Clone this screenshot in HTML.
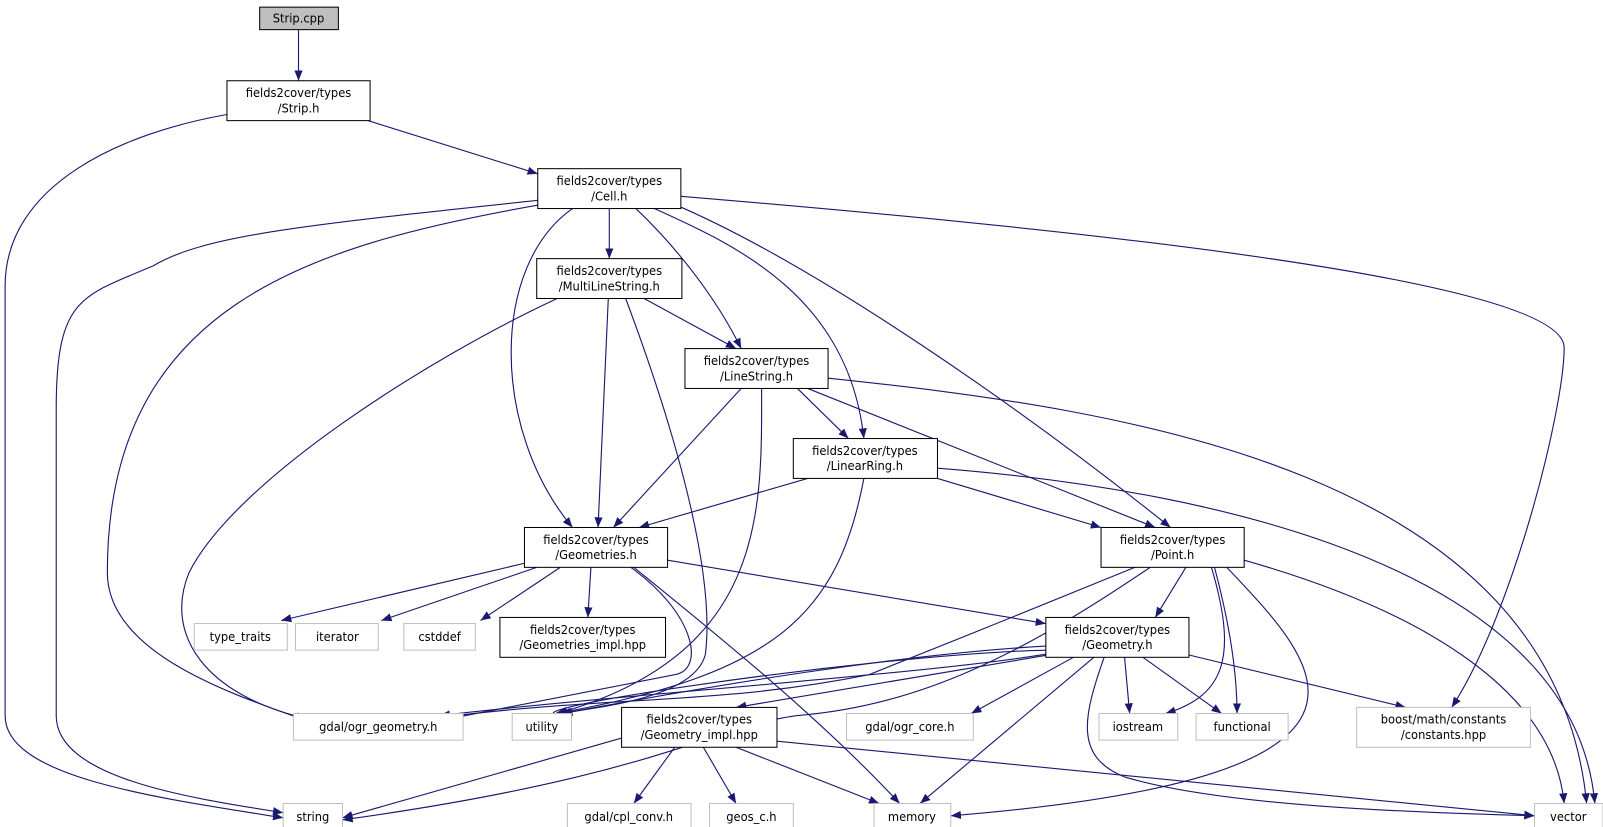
<!DOCTYPE html>
<html><head><meta charset="utf-8"><style>
html,body{margin:0;padding:0;background:#fff;}
svg{display:block;}
text{font-family:"DejaVu Sans Condensed","DejaVu Sans","Liberation Sans",sans-serif;font-size:12.5px;fill:#000;text-anchor:middle;}
.e{fill:none;stroke:#191970;stroke-width:1.1;marker-end:url(#a);}
.b{fill:#fff;stroke:#000;stroke-width:1;}
.g{fill:#fff;stroke:#bfbfbf;stroke-width:1;}
</style></head><body>
<svg width="1603" height="827" viewBox="0 0 1568 809" preserveAspectRatio="none">
<defs><marker id="a" viewBox="0 0 10 10" refX="10" refY="5" markerWidth="10" markerHeight="10" markerUnits="userSpaceOnUse" orient="auto"><path d="M0,1 L10,5 L0,9 z" fill="#191970"/></marker></defs>
<g>
<path class="e" d="M292,29 L292,79"/>
<path class="e" d="M360,118 L526,170"/>
<path class="e" d="M222,112 C120,130 5,180 5,280 L5,700 C5,760 150,780 277,800"/>
<path class="e" d="M596,204 L596,253"/>
<path class="e" d="M622,204 C660,240 700,290 725,341"/>
<path class="e" d="M640,204 C720,240 830,290 845,429"/>
<path class="e" d="M660,200 C800,260 1000,400 1145,516"/>
<path class="e" d="M560,204 C480,260 480,420 560,516"/>
<path class="e" d="M530,200 C300,240 105,300 105,560 C105,640 230,680 300,705"/>
<path class="e" d="M526,196 C300,220 200,230 150,260 C80,290 55,290 55,400 L55,700 C55,760 180,780 277,795"/>
<path class="e" d="M666,192 C1000,220 1530,270 1530,340 C1530,400 1480,600 1420,692"/>
<path class="e" d="M630,292 L720,341"/>
<path class="e" d="M595,292 L585,516"/>
<path class="e" d="M545,292 C420,350 230,470 185,560 C160,620 200,680 300,703"/>
<path class="e" d="M612,292 C660,420 700,560 690,640 C680,680 600,690 548,698"/>
<path class="e" d="M780,380 L830,429"/>
<path class="e" d="M725,380 L600,516"/>
<path class="e" d="M790,380 L1130,516"/>
<path class="e" d="M745,380 C745,500 750,640 545,698"/>
<path class="e" d="M810,370 C1100,400 1520,460 1552,786"/>
<path class="e" d="M790,468 L625,516"/>
<path class="e" d="M917,468 L1077,516"/>
<path class="e" d="M845,468 C820,600 760,660 543,698"/>
<path class="e" d="M917,458 C1200,480 1540,560 1560,786"/>
<path class="e" d="M513,551 L275,607"/>
<path class="e" d="M525,555 L373,607"/>
<path class="e" d="M548,555 L470,607"/>
<path class="e" d="M578,555 L575,604"/>
<path class="e" d="M653,548 L1023,610"/>
<path class="e" d="M617,555 C680,600 690,655 660,660 L430,705"/>
<path class="e" d="M620,555 C700,620 800,700 880,786"/>
<path class="e" d="M1160,555 L1130,604"/>
<path class="e" d="M1110,555 C1000,600 950,620 850,660 C700,690 600,680 430,702"/>
<path class="e" d="M1125,555 C1000,640 900,690 780,700 C700,710 640,760 335,802"/>
<path class="e" d="M1185,555 C1210,640 1200,680 1140,698"/>
<path class="e" d="M1188,555 C1200,600 1210,650 1210,698"/>
<path class="e" d="M1200,555 C1290,650 1400,760 930,798"/>
<path class="e" d="M1217,548 C1400,600 1520,680 1530,786"/>
<path class="e" d="M1023,640 C900,660 600,680 430,700"/>
<path class="e" d="M1023,632 C880,640 700,670 550,698"/>
<path class="e" d="M1023,636 C850,640 450,700 560,700"/>
<path class="e" d="M1030,640 L720,692"/>
<path class="e" d="M1050,643 L950,698"/>
<path class="e" d="M1070,643 L900,786"/>
<path class="e" d="M1080,643 C1060,700 1050,740 1100,760 C1200,790 1400,795 1501,798"/>
<path class="e" d="M1100,643 L1105,698"/>
<path class="e" d="M1118,643 L1195,698"/>
<path class="e" d="M1160,640 L1375,692"/>
<path class="e" d="M608,722 L335,800"/>
<path class="e" d="M660,731 L620,786"/>
<path class="e" d="M688,731 L720,786"/>
<path class="e" d="M720,731 L860,786"/>
<path class="e" d="M760,725 L1501,798"/>
</g>
<g>
<rect x="254" y="7" width="77" height="22" fill="#bfbfbf" stroke="#000"/><text x="292" y="22">Strip.cpp</text>
<rect class="b" x="222" y="79" width="140" height="39"/><text x="292" y="95">fields2cover/types</text><text x="292" y="110">/Strip.h</text>
<rect class="b" x="526" y="165" width="140" height="39"/><text x="596" y="181">fields2cover/types</text><text x="596" y="196">/Cell.h</text>
<rect class="b" x="525" y="253" width="142" height="39"/><text x="596" y="269">fields2cover/types</text><text x="596" y="284">/MultiLineString.h</text>
<rect class="b" x="670" y="341" width="140" height="39"/><text x="740" y="357">fields2cover/types</text><text x="740" y="372">/LineString.h</text>
<rect class="b" x="776" y="429" width="141" height="39"/><text x="846" y="445">fields2cover/types</text><text x="846" y="460">/LinearRing.h</text>
<rect class="b" x="513" y="516" width="140" height="39"/><text x="583" y="532">fields2cover/types</text><text x="583" y="547">/Geometries.h</text>
<rect class="b" x="1077" y="516" width="140" height="39"/><text x="1147" y="532">fields2cover/types</text><text x="1147" y="547">/Point.h</text>
<rect class="b" x="1023" y="604" width="140" height="39"/><text x="1093" y="620">fields2cover/types</text><text x="1093" y="635">/Geometry.h</text>
<rect class="g" x="190" y="610" width="91" height="26"/><text x="235" y="627">type_traits</text>
<rect class="g" x="289" y="610" width="81" height="26"/><text x="330" y="627">iterator</text>
<rect class="g" x="395" y="610" width="70" height="26"/><text x="430" y="627">cstddef</text>
<rect class="b" x="489" y="604" width="162" height="39"/><text x="570" y="620">fields2cover/types</text><text x="570" y="635">/Geometries_impl.hpp</text>
<rect class="g" x="287" y="698" width="166" height="26"/><text x="370" y="715">gdal/ogr_geometry.h</text>
<rect class="g" x="501" y="698" width="58" height="26"/><text x="530" y="715">utility</text>
<rect class="b" x="608" y="692" width="152" height="39"/><text x="684" y="708">fields2cover/types</text><text x="684" y="723">/Geometry_impl.hpp</text>
<rect class="g" x="828" y="698" width="124" height="26"/><text x="890" y="715">gdal/ogr_core.h</text>
<rect class="g" x="1075" y="698" width="77" height="26"/><text x="1113" y="715">iostream</text>
<rect class="g" x="1170" y="698" width="90" height="26"/><text x="1215" y="715">functional</text>
<rect class="g" x="1327" y="692" width="170" height="39"/><text x="1412" y="708">boost/math/constants</text><text x="1412" y="723">/constants.hpp</text>
<rect class="g" x="277" y="786" width="58" height="26"/><text x="306" y="803">string</text>
<rect class="g" x="555" y="786" width="121" height="26"/><text x="615" y="803">gdal/cpl_conv.h</text>
<rect class="g" x="694" y="786" width="82" height="26"/><text x="735" y="803">geos_c.h</text>
<rect class="g" x="855" y="786" width="75" height="26"/><text x="892" y="803">memory</text>
<rect class="g" x="1501" y="786" width="67" height="26"/><text x="1534" y="803">vector</text>
</g>
</svg>
</body></html>
